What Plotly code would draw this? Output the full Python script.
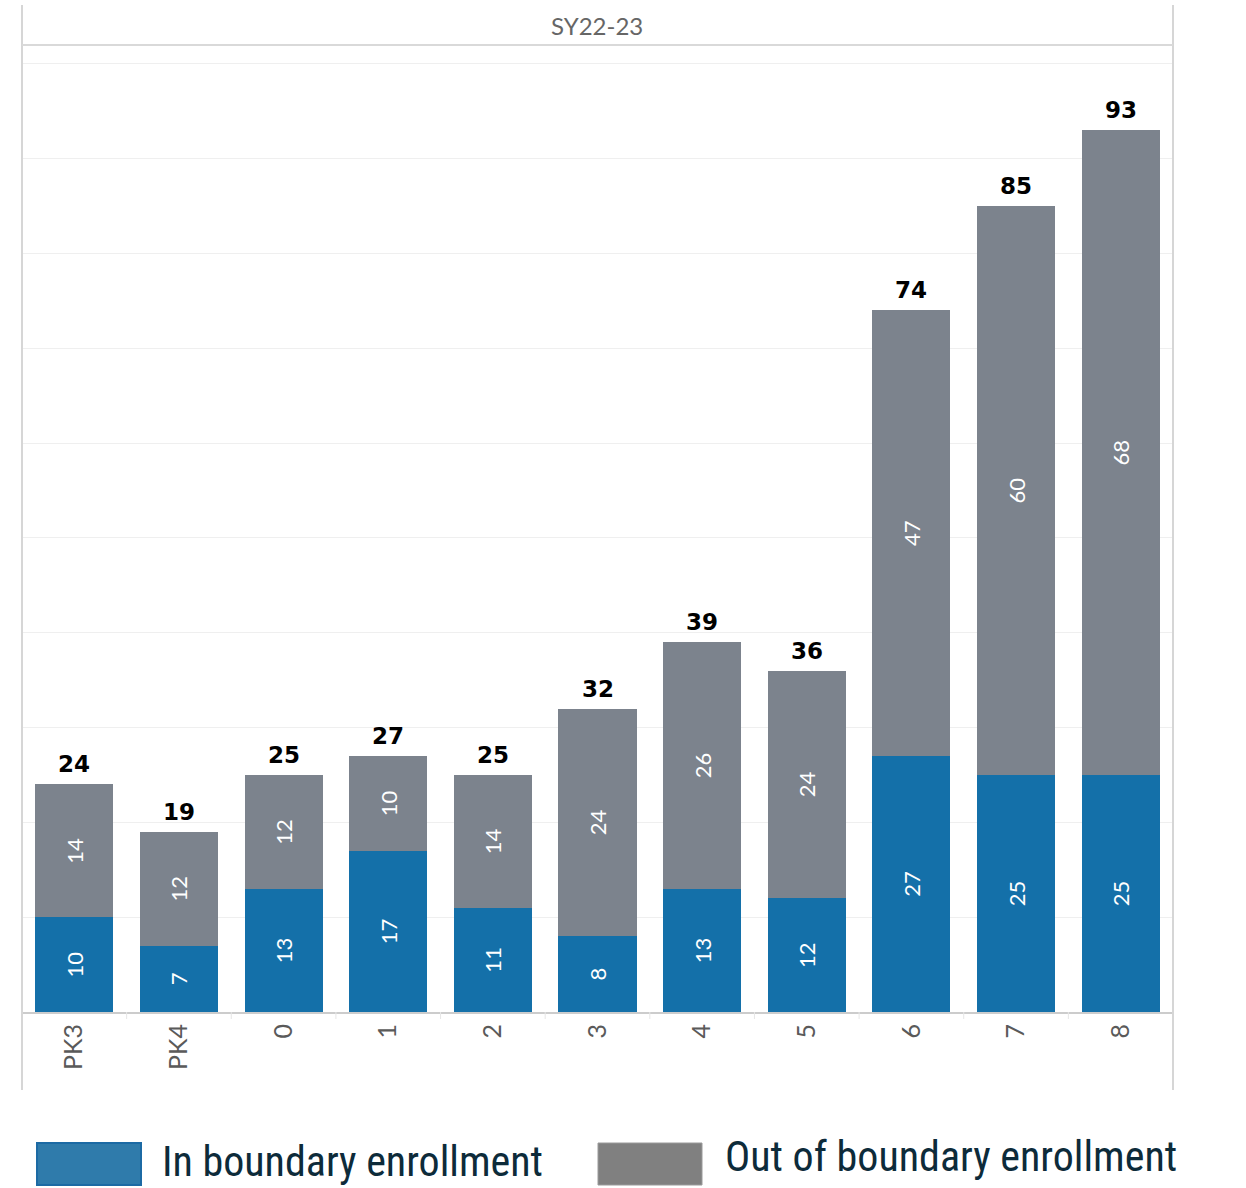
import plotly.graph_objects as go

# Enrollment by grade, SY22-23
grades = ["PK3", "PK4", "0", "1", "2", "3", "4", "5", "6", "7", "8"]
in_boundary = [10, 7, 13, 17, 11, 8, 13, 12, 27, 25, 25]
out_of_boundary = [14, 12, 12, 10, 14, 24, 26, 24, 47, 60, 68]
totals = [a + b for a, b in zip(in_boundary, out_of_boundary)]

BLUE = "#1470a9"
GRAY = "#7c838d"

W, H = 1246, 1188
L, R, T, B = 22, 1173, 45, 1012  # plot area edges in pixels


def px_x(p):
    return (p - L) / (R - L)


def px_y(p):
    return (B - p) / (B - T)


fig = go.Figure()

label_font = dict(family="Lato, sans-serif", size=22, color="white")

fig.add_trace(go.Bar(
    x=grades, y=in_boundary, name="In boundary enrollment",
    marker=dict(color=BLUE, line=dict(width=0)),
    text=in_boundary, textposition="inside", insidetextanchor="middle",
    textangle=-90, insidetextfont=label_font, constraintext="none",
    hoverinfo="x+y+name",
))
fig.add_trace(go.Bar(
    x=grades, y=out_of_boundary, name="Out of boundary enrollment",
    marker=dict(color=GRAY, line=dict(width=0)),
    text=out_of_boundary, textposition="inside", insidetextanchor="middle",
    textangle=-90, insidetextfont=label_font, constraintext="none",
    hoverinfo="x+y+name",
))

# Totals above each stack (category index positions, since some grade
# names look numeric)
for i, t in enumerate(totals):
    fig.add_annotation(
        x=i, y=t, text=f"<b>{t}</b>", showarrow=False,
        xref="x", yref="y", yanchor="bottom", yshift=5,
        font=dict(family="DejaVu Sans, sans-serif", size=23, color="black"),
    )

shapes = []
frame = "#d6d6d6"
# Outer frame verticals
for xp in (L, R):
    shapes.append(dict(type="line", xref="paper", yref="paper",
                       x0=px_x(xp), x1=px_x(xp), y0=px_y(5), y1=px_y(1090),
                       line=dict(color=frame, width=2)))
# Header separator
shapes.append(dict(type="line", xref="paper", yref="paper",
                   x0=0, x1=1, y0=px_y(45), y1=px_y(45),
                   line=dict(color="#d9d9d9", width=2)))
# Ticks at category boundaries
for i in range(1, len(grades)):
    shapes.append(dict(type="line", xref="x", yref="paper",
                       x0=i - 0.5, x1=i - 0.5, y0=px_y(1012), y1=px_y(1019),
                       line=dict(color="#e6e6e6", width=1)))

# Legend swatches
shapes.append(dict(type="rect", xref="paper", yref="paper",
                   x0=px_x(37), x1=px_x(141), y0=px_y(1185), y1=px_y(1143),
                   fillcolor="#2f7bab", line=dict(color="#1c6aa4", width=2)))
shapes.append(dict(type="rect", xref="paper", yref="paper",
                   x0=px_x(598), x1=px_x(702), y0=px_y(1185), y1=px_y(1143),
                   fillcolor="#808080", line=dict(color="#9a9a9a", width=1)))

legend_font = dict(family="Liberation Sans Narrow, Arial Narrow, Roboto Condensed, sans-serif",
                   size=42, color="#0d2b3a")
annotations = [
    dict(text="SY22-23", xref="paper", yref="paper", x=px_x(597), y=px_y(26),
         xanchor="center", yanchor="middle",
         showarrow=False, font=dict(family="Lato, sans-serif", size=24, color="#666666")),
    dict(text="In boundary enrollment", xref="paper", yref="paper",
         x=px_x(160), y=px_y(1188), xanchor="left", yanchor="bottom",
         showarrow=False, font=legend_font),
    dict(text="Out of boundary enrollment", xref="paper", yref="paper",
         x=px_x(723), y=px_y(1183), xanchor="left", yanchor="bottom",
         showarrow=False, font=legend_font),
]

fig.update_layout(
    width=W, height=H,
    margin=dict(l=L, r=W - R, t=T, b=H - B, pad=0),
    barmode="stack", bargap=0.254,
    plot_bgcolor="white", paper_bgcolor="white",
    showlegend=False,
    shapes=shapes,
    annotations=list(fig.layout.annotations) + annotations,
    xaxis=dict(
        type="category", tickangle=-90, showgrid=False,
        showline=True, linecolor="#cccccc", linewidth=2,
        ticks="", ticklen=0,
        tickfont=dict(family="Lato, sans-serif", size=25, color="#5a5a5a"),
        fixedrange=True,
    ),
    yaxis=dict(
        range=[0, 102], dtick=10, showticklabels=False,
        showgrid=True, gridcolor="#efefef", gridwidth=1,
        zeroline=False, showline=False, fixedrange=True,
    ),
)

fig.write_html("out.html")
